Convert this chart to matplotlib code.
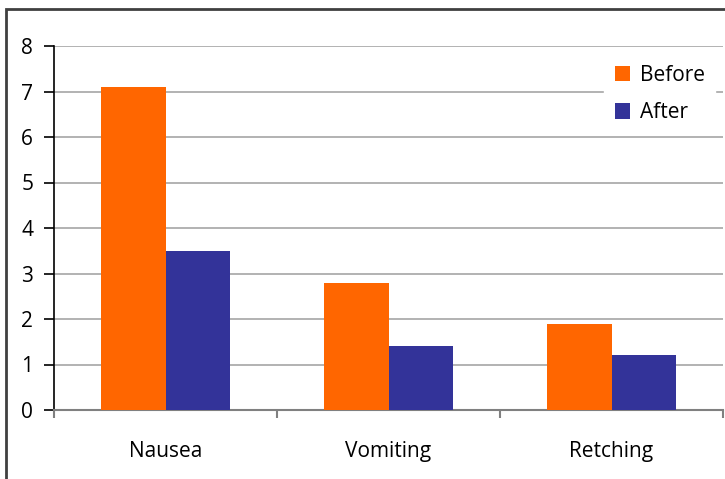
import numpy as np
import matplotlib.pyplot as plt
from matplotlib.patches import Rectangle

categories = ["Nausea", "Vomiting", "Retching"]
before = [7.1, 2.8, 1.9]
after = [3.5, 1.4, 1.2]
series_names = ["Before", "After"]
colors = ["#FF6600", "#333399"]

plt.rcParams['font.family'] = ['Open Sans', 'DejaVu Sans']

fig = plt.figure(figsize=(7.25, 4.79), dpi=100)
ax = fig.add_axes([54 / 725, 1 - 410 / 479, 669 / 725, 364 / 479])

x = np.arange(len(categories))
w = 0.287
ax.bar(x - w / 2, before, w, color=colors[0], label=series_names[0], zorder=3)
ax.bar(x + w / 2, after, w, color=colors[1], label=series_names[1], zorder=3)

ax.set_xlim(-0.5, 2.5)
ax.set_ylim(0, 8)
ax.set_yticks(range(0, 9))
ax.yaxis.grid(True, color="#a6a6a6", linewidth=1.2, zorder=0)

ax.set_xticks([-0.5, 0.5, 1.5, 2.5])
ax.set_xticklabels([])
ax.set_xticks(x, minor=True)
ax.set_xticklabels(categories, minor=True, fontsize=15)
ax.tick_params(axis="x", which="minor", length=0, pad=22)
ax.tick_params(axis="x", which="major", length=6, color="#808080", width=1.5, direction="out")
ax.tick_params(axis="y", length=7, width=1.2, direction="out", labelsize=15, pad=8)

for s in ["top", "right"]:
    ax.spines[s].set_visible(False)
ax.spines["bottom"].set_color("#808080")
ax.spines["bottom"].set_linewidth(1.5)
ax.spines["left"].set_color("black")
ax.spines["left"].set_linewidth(1.2)

leg = ax.legend(loc="upper right", bbox_to_anchor=(1.004, 1.006), frameon=True,
                fontsize=15, handlelength=0.75, handleheight=0.75, handletextpad=0.45,
                labelspacing=0.8, borderpad=0.5, fancybox=False)
leg.get_frame().set_edgecolor("white")
leg.get_frame().set_facecolor("white")
leg.get_frame().set_alpha(1)

fig.patches.append(Rectangle((6 / 725, -0.1), 1.2, 1 - 9 / 479 + 0.1,
                             transform=fig.transFigure, fill=False,
                             edgecolor="#404040", linewidth=2))

fig.savefig("out.png", dpi=100)
